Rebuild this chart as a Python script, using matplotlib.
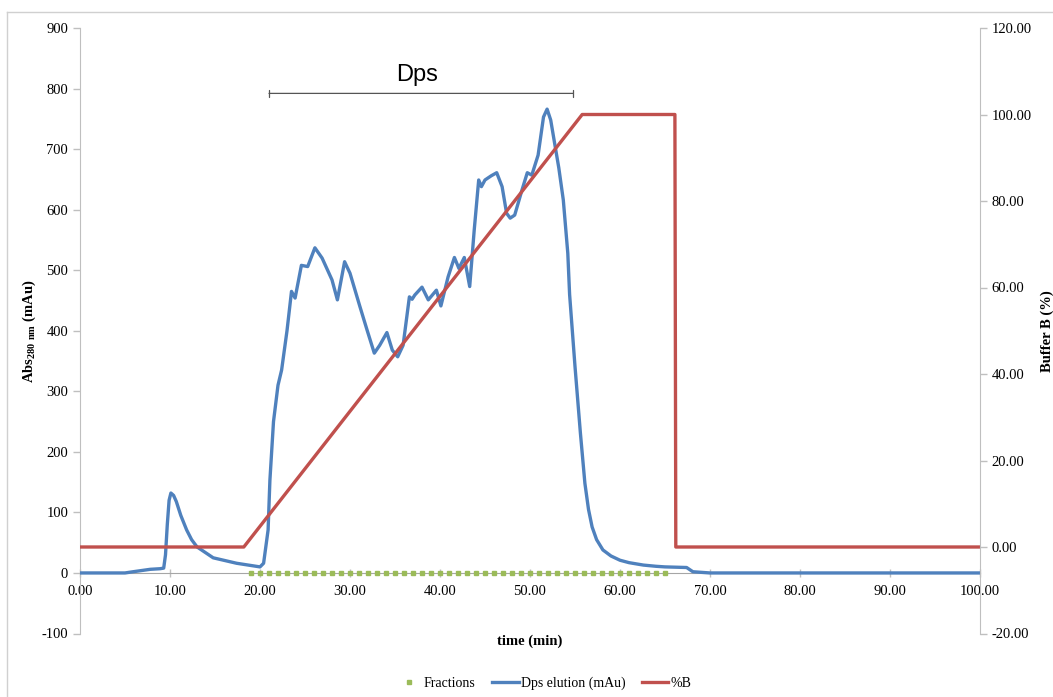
import matplotlib
matplotlib.use("Agg")
import matplotlib.pyplot as plt
from matplotlib.lines import Line2D

# Dps elution profile (Abs 280 nm, mAu)
time_min = [0, 5, 5.9, 7.8, 8.9, 9.3, 9.5, 9.7, 9.9, 10.1, 10.4, 10.7, 11.2, 11.85, 12.4,
            13.0, 14.8, 17.4, 20.0, 20.4, 20.9, 21.1, 21.5, 22.0, 22.4, 23.0, 23.5, 23.9,
            24.6, 25.3, 26.1, 26.9, 28.0, 28.6, 29.4, 30.0, 31.1, 31.9, 32.7, 33.3, 34.1,
            34.7, 35.3, 35.9, 36.6, 36.9, 37.2, 38.0, 38.7, 39.6, 40.1, 40.9, 41.6,
            42.1, 42.7, 43.3, 43.8, 44.3, 44.6, 45.0, 45.7, 46.3, 46.9, 47.4, 47.8,
            48.3, 49.1, 49.7, 50.2, 50.9, 51.5, 51.9, 52.3, 52.8, 53.2, 53.7, 54.2,
            54.4, 55.0, 55.6, 56.1, 56.5, 56.9, 57.4, 58.1, 59.0, 60.0, 61.0, 62.6,
            64.0, 65.0, 67.4, 68.1, 70.0, 100.0]
abs280 = [0, 0, 2, 6, 7, 8, 30, 80, 120, 132, 128, 118, 95, 71, 55,
          43, 25, 16, 10, 16, 71, 153, 250, 310, 335, 400, 465, 454,
          508, 506, 537, 520, 484, 451, 514, 495, 440, 401, 363, 376, 397,
          368, 357, 376, 456, 452, 459, 472, 451, 467, 441, 489, 521,
          503, 521, 473, 566, 649, 638, 649, 656, 661, 638, 594, 586,
          591, 632, 661, 657, 690, 753, 766, 748, 704, 669, 616, 528,
          460, 341, 231, 148, 105, 76, 55, 38, 28, 21, 17, 13,
          11, 10, 9, 2, 0, 0]

# gradient %B
grad_time = [0, 18.2, 55.8, 66.1, 66.2, 100]
grad_b = [0, 0, 100, 100, 0, 0]

# fraction collection times
fraction_times = [19, 20, 21, 22, 23, 24, 25, 26, 27, 28, 29, 30, 31, 32, 33, 34,
                  35, 36, 37, 38, 39, 40, 41, 42, 43, 44, 45, 46, 47, 48, 49, 50,
                  51, 52, 53, 54, 55, 56, 57, 58, 59, 60, 61, 62, 63, 64, 65]
fraction_y = [0] * len(fraction_times)

blue = '#4F81BD'
red = '#C0504D'
green = '#9BBB59'
gray = '#BFBFBF'

plt.rcParams['font.family'] = ['Liberation Serif', 'DejaVu Serif']
plt.rcParams['axes.unicode_minus'] = False
plt.rcParams['mathtext.fontset'] = 'custom'
plt.rcParams['mathtext.bf'] = 'Liberation Serif:bold'
plt.rcParams['mathtext.rm'] = 'Liberation Serif'

fig = plt.figure(figsize=(10.53, 6.97), dpi=100)
ax = fig.add_axes([80 / 1053, 1 - 633.5 / 697, 900 / 1053, 605.5 / 697])
ax2 = ax.twinx()

# outer frame (light gray, left and top only visible)
fig.add_artist(Line2D([7 / 1053, 7 / 1053], [0, 1 - 12 / 697], transform=fig.transFigure,
                      color='#d0d0d0', lw=1))
fig.add_artist(Line2D([7 / 1053, 1], [1 - 12 / 697, 1 - 12 / 697], transform=fig.transFigure,
                      color='#d0d0d0', lw=1))

ax.plot(fraction_times, fraction_y, linestyle='none', marker='s', markersize=2.5,
        color=green, zorder=4, clip_on=False)
ax.plot(time_min, abs280, color=blue, lw=2.4, zorder=3, solid_joinstyle='round')
ax2.plot(grad_time, grad_b, color=red, lw=2.4)

ax.set_xlim(0, 100)
ax.set_ylim(-100, 900)
ax.set_yticks(range(-100, 901, 100))
ax.set_xticks(range(0, 101, 10))
ax.set_xticklabels([f'{v:.2f}' for v in range(0, 101, 10)])
ax2.set_ylim(-20, 120)
ax2.set_yticks(range(-20, 121, 20))
ax2.set_yticklabels([f'{v:.2f}' for v in range(-20, 121, 20)])

for a in (ax, ax2):
    a.spines['top'].set_visible(False)
    for s in ('left', 'right', 'bottom'):
        a.spines[s].set_color(gray)
ax.spines['right'].set_visible(False)
ax2.spines['bottom'].set_visible(False)
ax2.spines['left'].set_visible(False)
ax.spines['bottom'].set_position(('data', 0))
ax.spines['bottom'].set_color('#a6a6a6')

ax.tick_params(axis='both', colors=gray, labelcolor='black', labelsize=10.5, length=5, width=1)
ax.tick_params(axis='x', direction='inout', length=6, pad=6)
ax2.tick_params(axis='y', colors=gray, labelcolor='black', labelsize=10.5, length=5, width=1)

ax.set_ylabel('Abs$_{\\mathbf{280\\ nm}}$ (mAu)', fontweight='bold', fontsize=10.5)
ax.yaxis.set_label_coords(-0.047, 0.5)
ax2.set_ylabel('Buffer B (%)', fontweight='bold', fontsize=10.5)
ax2.yaxis.set_label_coords(1.067, 0.5)
ax.text(0.5, -0.012, 'time (min)', transform=ax.transAxes, ha='center', va='center',
        fontweight='bold', fontsize=10.5)

# Dps pool bracket
ax.annotate('', xy=(21.0, 792), xytext=(54.8, 792),
            arrowprops=dict(arrowstyle='|-|, widthA=0.25, widthB=0.25', color='#555555', lw=0.9,
                            shrinkA=0, shrinkB=0))
ax.text(37.5, 823, 'Dps', ha='center', va='center', fontsize=17,
        family=['Liberation Sans', 'DejaVu Sans'])

handles = [
    Line2D([], [], linestyle='none', marker='s', markersize=2.5, color=green),
    Line2D([], [], color=blue, lw=2.4),
    Line2D([], [], color=red, lw=2.4),
]
fig.legend(handles, ['Fractions', 'Dps elution (mAu)', '%B'], loc='center',
           bbox_to_anchor=(0.516, 1 - 683 / 697), ncol=3, frameon=False, fontsize=10,
           handlelength=1.9, columnspacing=1.2, handletextpad=0.15)

fig.savefig('out.png', dpi=100)
